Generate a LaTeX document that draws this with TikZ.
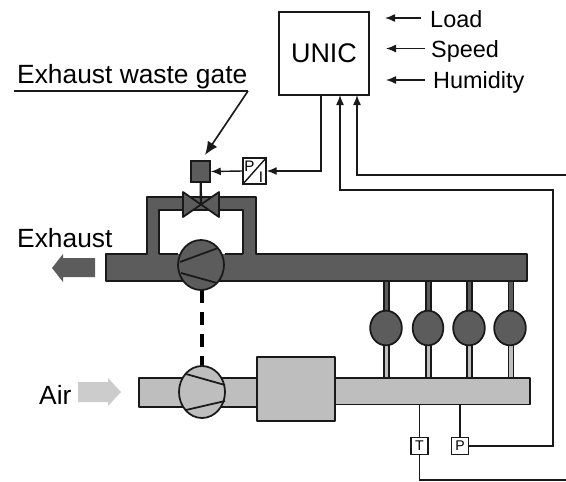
\documentclass[tikz,border=0pt]{standalone}
\usepackage{fontspec}
\setmainfont{Liberation Sans}
\usetikzlibrary{shapes.geometric,arrows.meta}
\definecolor{exhaustgray}{HTML}{5C5C5C}
\definecolor{airgray}{HTML}{BEBEBE}
\definecolor{airarrow}{HTML}{CCCCCC}
\tikzset{
    pipeline/.style={draw=black!90, line width=1.5pt, line join=round},
    stem/.style={draw=black!90, line width=1pt},
    wire/.style={black!90, line width=1.2pt},
    wirearrow/.style={wire, -{Latex[length=3mm,width=2.4mm]}},
    sensor/.style={draw=black!90, fill=white, line width=1.2pt, minimum size=5.2mm, inner sep=0pt, font=\fontsize{12}{12}\selectfont},
    lobe/.style={pipeline, ellipse, inner sep=0pt},
    label/.style={anchor=base west, inner sep=0pt, font=\fontsize{20}{20}\selectfont},
    biglabel/.style={anchor=base west, inner sep=0pt, font=\fontsize{22.5}{22.5}\selectfont},
}
\begin{document}
\begin{tikzpicture}[x=0.3mm, y=-0.3mm]
            \useasboundingbox (0,0) rectangle (566,481);

            % exhaust side
            \draw[pipeline, fill=exhaustgray] (106,254) -- (147,254) -- (147,197) -- (256,197) -- (256,254) -- (527,254) -- (527,281) -- (106,281) -- cycle;
            \fill[white] (159,210) rectangle (243,254);
            \draw[pipeline] (159,254) -- (159,210) -- (243,210) -- (243,254);
            \draw[pipeline] (159,254) -- (178,254);
            \draw[pipeline] (225,254) -- (243,254);

            % cylinder stems
            \draw[stem, fill=exhaustgray] (384,281) rectangle (389,312);
            \draw[stem, fill=exhaustgray] (426,281) rectangle (431,312);
            \draw[stem, fill=exhaustgray] (467,281) rectangle (472,312);
            \draw[stem, fill=exhaustgray] (508.5,281) rectangle (513.5,312);
            \draw[stem, fill=airgray] (384,344) rectangle (389,378);
            \draw[stem, fill=airgray] (426,344) rectangle (431,378);
            \draw[stem, fill=airgray] (467,344) rectangle (472,378);
            \draw[stem, fill=airgray] (508.5,344) rectangle (513.5,378);

            \node[lobe, fill=exhaustgray, minimum width=9.5mm, minimum height=10.4mm] (cylA) at (386,328) {};
            \node[lobe, fill=exhaustgray, minimum width=9.2mm, minimum height=10.4mm] (cylB) at (428,328) {};
            \node[lobe, fill=exhaustgray, minimum width=9.5mm, minimum height=10.4mm] (cylC) at (469,328) {};
            \node[lobe, fill=exhaustgray, minimum width=9.5mm, minimum height=10.4mm] (cylD) at (510,328) {};

            % air side
            \draw[pipeline, fill=airgray] (139,378) rectangle (260,407);
            \draw[pipeline, fill=airgray] (330,378) rectangle (530,404.5);
            \draw[pipeline, fill=airgray] (257,357) rectangle (335,421);

            % shaft
            \coordinate (shafttop) at (202,290);
            \coordinate (shaftbottom) at (202,366);
            \draw[black, line width=2.6pt, dash pattern=on 3.9mm off 2.7mm] (shafttop) -- (shaftbottom);

            \node[lobe, fill=exhaustgray, minimum width=13.8mm, minimum height=15mm] (turbine) at (201,265) {};
            \draw[pipeline] (180,262) -- (218,248);
            \draw[pipeline] (181,273) -- (217,283);
            \node[lobe, fill=airgray, minimum width=13.8mm, minimum height=15.6mm] (compressor) at (202,392) {};
            \draw[pipeline] (186,374) -- (225,385);
            \draw[pipeline] (186,410) -- (225,401);

            % valve
            \draw[pipeline, fill=exhaustgray] (183,192) -- (219,217) -- (219,192) -- (183,217) -- cycle;
            \coordinate (valve) at (201,204.5);
            \node[draw=black!90, fill=exhaustgray, line width=1.3pt, minimum width=5.7mm, minimum height=6.3mm, inner sep=0pt] (actuator) at (200.5,171.5) {};
            \draw[black!90, line width=2pt] (actuator) -- (valve);

            % control
            \node[draw=black!90, line width=1.3pt, minimum width=27mm, minimum height=25mm, inner sep=0pt, font=\fontsize{23}{23}\selectfont] (unic) at (324,53.5) {UNIC};
            \node[draw=black!90, fill=white, line width=1.2pt, minimum width=6.9mm, minimum height=7.8mm, inner sep=0pt] (converter) at (254.5,171) {};
            \draw[wire] (converter.south west) -- (converter.north east);
            \node[inner sep=0pt, font=\fontsize{13}{13}\selectfont] (convP) at (249.5,166) {P};
            \node[inner sep=0pt, font=\fontsize{13}{13}\selectfont] (convI) at (261,177) {I};
            \node[sensor] (tsensor) at (419.5,446) {T};
            \node[sensor] (psensor) at (460,446) {P};

            \coordinate (unicout) at (321,95);
            \coordinate (unicinA) at (340,95);
            \coordinate (unicinB) at (357,95);
            \draw[wirearrow] (unicout) |- (converter.east);
            \draw[wirearrow] (converter.west) -- (actuator.east);
            \coordinate (tempend) at (566,480);
            \coordinate (humend) at (566,175);
            \draw[wirearrow] (humend) -| (unicinB);
            \coordinate (pressturn) at (553,190);
            \draw[wirearrow] (psensor.east) -| (pressturn) -| (unicinA);
            \draw[wire] (tsensor.south) |- (tempend);
            \coordinate (airtapT) at (419.5,404.5);
            \coordinate (airtapP) at (460,404.5);
            \draw[wire] (airtapT) -- (tsensor.north);
            \draw[wire] (airtapP) -- (psensor.north);

            % inputs
            \node[label] (load) at (430,27) {Load};
            \node[label] (speed) at (431,57) {Speed};
            \node[label] (humidity) at (433,88) {Humidity};
            \coordinate (loadtip) at (385,18);
            \coordinate (speedtip) at (386,48.5);
            \coordinate (humiditytip) at (386,80);
            \coordinate (loadstart) at (421,18);
            \coordinate (speedstart) at (425,48.5);
            \coordinate (humiditystart) at (425,80);
            \draw[wirearrow] (loadstart) -- (loadtip);
            \draw[wirearrow] (speedstart) -- (speedtip);
            \draw[wirearrow] (humiditystart) -- (humiditytip);

            % waste gate label
            \node[biglabel] (gatelabel) at (17,83) {Exhaust waste gate};
            \coordinate (gateleft) at (14,91);
            \coordinate (gateright) at (248,91);
            \coordinate (gatetip) at (205,155);
            \draw[wire] (gateleft) -- (gateright);
            \draw[wire, line width=1.4pt, -{Latex[length=4mm,width=3.4mm]}] (gateright) -- (gatetip);

            % flow arrows
            \node[biglabel] (exhaustlabel) at (17,247) {Exhaust};
            \node[biglabel] (airlabel) at (39,404) {Air};
            \fill[exhaustgray] (95,258) -- (63,258) -- (63,254) -- (52,268) -- (63,282) -- (63,277) -- (95,277) -- cycle;
            \fill[airarrow] (78,382) -- (108,382) -- (108,378) -- (121,392) -- (108,406) -- (108,402) -- (78,402) -- cycle;
        \end{tikzpicture}
\end{document}
